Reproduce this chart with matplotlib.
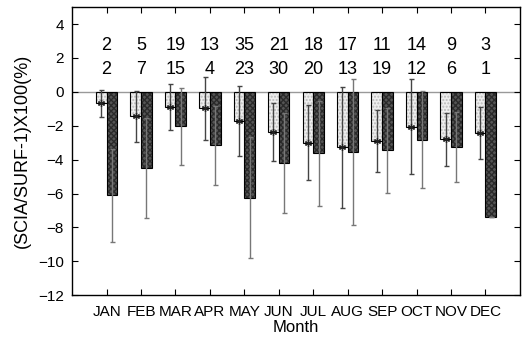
import numpy as np
import matplotlib
matplotlib.use("Agg")
import matplotlib.pyplot as plt

plt.rcParams['font.family'] = ['Liberation Sans', 'DejaVu Sans']

months = ['JAN', 'FEB', 'MAR', 'APR', 'MAY', 'JUN',
          'JUL', 'AUG', 'SEP', 'OCT', 'NOV', 'DEC']

# light bars (first series) mean and error
light_mean = [-0.66, -1.45, -0.88, -0.98, -1.71, -2.37,
              -3.00, -3.28, -2.90, -2.06, -2.80, -2.43]
light_err = [0.80, 1.53, 1.37, 1.88, 2.07, 1.70,
             2.23, 3.56, 1.83, 2.81, 1.58, 1.53]

# dark bars (second series)
dark_mean = [-6.10, -4.49, -2.04, -3.16, -6.24, -4.18,
             -3.63, -3.57, -3.45, -2.82, -3.25, -7.39]
dark_err = [2.75, 2.95, 2.28, 2.32, 3.57, 2.96,
            3.09, 4.31, 2.52, 2.85, 2.05, 0.0]

# counts shown above the bars
n_top = [2, 5, 19, 13, 35, 21, 18, 17, 11, 14, 9, 3]
n_bottom = [2, 7, 15, 4, 23, 30, 20, 13, 19, 12, 6, 1]

x = np.arange(1, 13)
w = 0.31

fig = plt.figure(figsize=(5.23, 3.42), dpi=100)
ax = fig.add_axes([0.138, 0.137, 0.856, 0.842])

ax.axhline(0, color='#999999', lw=1.0, zorder=1)

# light bars: fill + hatch, then outline
ax.bar(x - w / 2, light_mean, w, color='#eeeeee', edgecolor='#bbbbbb',
       hatch='.....', linewidth=0, zorder=2)
ax.bar(x - w / 2, light_mean, w, fill=False, edgecolor='black',
       linewidth=0.8, zorder=3)
# dark bars
ax.bar(x + w / 2, dark_mean, w, color='#555555', edgecolor='#2a2a2a',
       hatch='xxxxxx', linewidth=0, zorder=2)
ax.bar(x + w / 2, dark_mean, w, fill=False, edgecolor='black',
       linewidth=0.8, zorder=3)

ax.errorbar(x - w / 2, light_mean, yerr=light_err, fmt='none',
            ecolor='#444444', elinewidth=1.0, capsize=1.8, zorder=4)
ax.errorbar(x + w / 2, dark_mean, yerr=dark_err, fmt='none',
            ecolor='#777777', elinewidth=1.0, capsize=1.8, zorder=4)
ax.plot(x - w / 2, light_mean, linestyle='none', marker=(6, 2, 0),
        markersize=5, color='#222222', markeredgewidth=0.9, zorder=5)

for xi, a, b in zip(x, n_top, n_bottom):
    ax.text(xi, 2.72, str(a), ha='center', va='center', fontsize=13)
    ax.text(xi, 1.35, str(b), ha='center', va='center', fontsize=13)

ax.set_xlim(0, 13)
ax.set_ylim(-12, 5)
ax.set_xticks(x)
ax.set_xticklabels(months)
ax.set_yticks(np.arange(-12, 5, 2))
ax.tick_params(direction='in', top=True, right=True, length=4,
               labelsize=11, width=0.8, pad=6)
ax.tick_params(axis='x', pad=7)
for s in ax.spines.values():
    s.set_linewidth(1.0)

ax.set_xlabel('Month', fontsize=12, labelpad=1)
ax.set_ylabel('(SCIA/SURF-1)X100(%)', fontsize=13, labelpad=5)

fig.savefig('out.png', dpi=100)
